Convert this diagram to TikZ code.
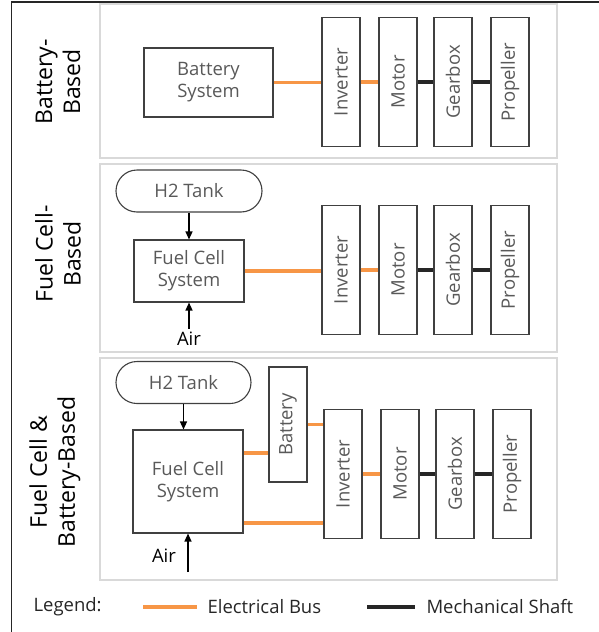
\documentclass[tikz,border=0pt]{standalone}
\usepackage{fontspec}
\setmainfont{Open Sans}
\usepackage{graphicx}
\usepackage{tikz}
\usetikzlibrary{arrows.meta,shapes.misc}
\definecolor{fcorange}{HTML}{F79646}
\definecolor{fcink}{HTML}{262626}
\definecolor{fcgray}{HTML}{595959}
\definecolor{fcpanel}{HTML}{D9D9D9}
\definecolor{fcedge}{HTML}{404040}
\newcommand{\uptext}[1]{\rotatebox{90}{#1}}
\tikzset{
  panelBox/.style={draw=fcpanel, line width=1.5pt},
  unitBox/.style={draw=fcedge, line width=1.1pt, fill=white, align=center, text=fcgray, inner sep=0pt, font=\fontsize{18.5}{22}\selectfont},
  vertBox/.style={unitBox, minimum width=38pt, minimum height=129pt},
  tankBox/.style={unitBox, rounded rectangle, minimum height=42pt},
  elecLine/.style={draw=fcorange, line width=3.5pt},
  mechLine/.style={draw=fcink, line width=4pt},
  feedArrow/.style={-{Triangle[length=8pt,width=7pt]}, line width=1.3pt, draw=black},
  sideLabel/.style={align=center, text=black, rotate=90, font=\fontsize{23}{28}\selectfont},
  legendLabel/.style={anchor=west, text=fcink, font=\fontsize{18.5}{22}\selectfont}
}

\begin{document}
\begin{tikzpicture}[x=1pt,y=-1pt]
  \useasboundingbox (0,0) rectangle (598,632);
  \draw[line width=1.2pt, fcink] (11.5,2) rectangle (640,680);
  % panels
  \draw[panelBox] (100,4) rectangle (557,158);
  \draw[panelBox] (100,164) rectangle (557,352);
  \draw[panelBox] (100,358) rectangle (557,580);
  \node[sideLabel] (side1) at (58,82) {Battery-\\Based};
  \node[sideLabel] (side2) at (58,254) {Fuel Cell-\\Based};
  \node[sideLabel] (side3) at (55,472) {Fuel Cell \&\\Battery-Based};

  % battery-based
  \node[unitBox, minimum width=129pt, minimum height=69pt] (bat1) at (208.5,82.5) {Battery\\System};
  \node[vertBox] (inv1) at (341,82) {\uptext{Inverter}};
  \node[vertBox] (mot1) at (398,82) {\uptext{Motor}};
  \node[vertBox] (gear1) at (453,82) {\uptext{Gearbox}};
  \node[vertBox] (prop1) at (510,82) {\uptext{Propeller}};
  \draw[elecLine] (bat1.east) -- (bat1.east -| inv1.west);
  \draw[elecLine] (inv1.east) -- (mot1.west);
  \draw[mechLine] (mot1.east) -- (gear1.west);
  \draw[mechLine] (gear1.east) -- (prop1.west);

  % fuel cell-based
  \node[tankBox, minimum width=146pt] (tank2) at (189,191) {H2 Tank};
  \node[unitBox, minimum width=110pt, minimum height=62pt] (fcs2) at (189,271) {Fuel Cell\\System};
  \node[legendLabel, anchor=center, text=black] (air2) at (189,339) {Air};
  \node[vertBox] (inv2) at (341,270) {\uptext{Inverter}};
  \node[vertBox] (mot2) at (398,270) {\uptext{Motor}};
  \node[vertBox] (gear2) at (453,270) {\uptext{Gearbox}};
  \node[vertBox] (prop2) at (510,270) {\uptext{Propeller}};
  \draw[feedArrow] (tank2.south) -- (fcs2.north);
  \draw[feedArrow] (air2.north) -- (fcs2.south);
  \draw[elecLine] (fcs2.east) -- (fcs2.east -| inv2.west);
  \draw[elecLine] (inv2.east) -- (mot2.west);
  \draw[mechLine] (mot2.east) -- (gear2.west);
  \draw[mechLine] (gear2.east) -- (prop2.west);

  % fuel cell & battery-based
  \node[tankBox, minimum width=135pt] (tank3) at (183.5,382.5) {H2 Tank};
  \node[unitBox, minimum width=110pt, minimum height=103pt] (fcs3) at (188,481.5) {Fuel Cell\\System};
  \node[vertBox, minimum height=115pt] (bat3) at (288,424.5) {\uptext{Battery}};
  \node[legendLabel, anchor=center, text=black] (air3) at (164,556) {Air};
  \coordinate (airIn3) at (188,572);
  \node[vertBox] (inv3) at (343,474) {\uptext{Inverter}};
  \node[vertBox] (mot3) at (400,474) {\uptext{Motor}};
  \node[vertBox] (gear3) at (455,474) {\uptext{Gearbox}};
  \node[vertBox] (prop3) at (512,474) {\uptext{Propeller}};
  \draw[feedArrow] (tank3.south) -- (tank3.south |- fcs3.north);
  \draw[feedArrow] (airIn3) -- (airIn3 |- fcs3.south);
  \draw[elecLine] (fcs3.east |- 0,453) -- (bat3.west |- 0,453);
  \draw[elecLine] (bat3.east) -- (bat3.east -| inv3.west);
  \draw[elecLine] (fcs3.east |- 0,523) -- (inv3.west |- 0,523);
  \draw[elecLine] (inv3.east) -- (mot3.west);
  \draw[mechLine] (mot3.east) -- (gear3.west);
  \draw[mechLine] (gear3.east) -- (prop3.west);

  % legend
  \node[legendLabel] (legend) at (30,607) {Legend:};
  \coordinate (elecA) at (143,607);
  \coordinate (elecB) at (197,607);
  \draw[elecLine] (elecA) -- (elecB);
  \node[legendLabel] (elecText) at (204,607) {Electrical Bus};
  \coordinate (mechA) at (367,607);
  \coordinate (mechB) at (415,607);
  \draw[mechLine] (mechA) -- (mechB);
  \node[legendLabel] (mechText) at (423,607) {Mechanical Shaft};
\end{tikzpicture}
\end{document}
